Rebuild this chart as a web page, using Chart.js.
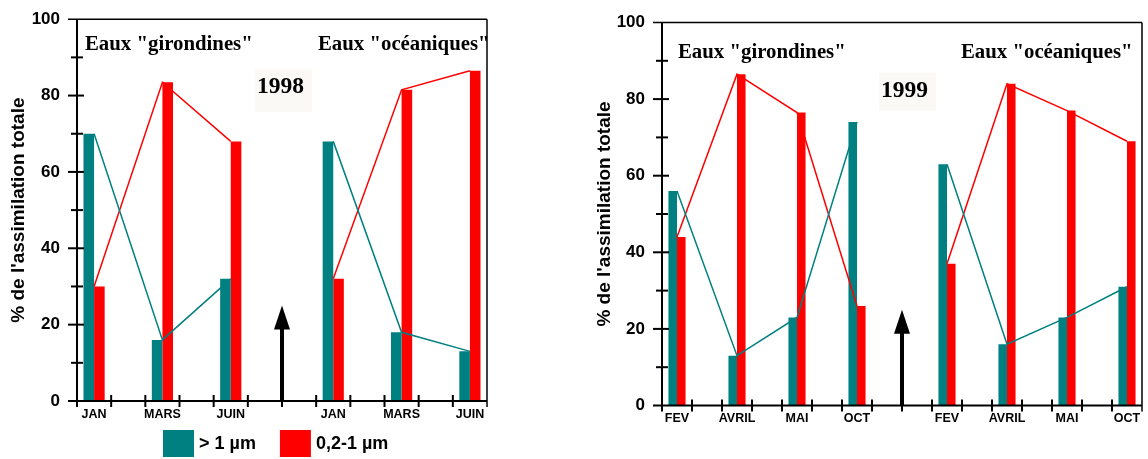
<!DOCTYPE html>
<html><head><meta charset="utf-8">
<script src="https://cdn.jsdelivr.net/npm/chart.js@4.4.0/dist/chart.umd.min.js"></script>
<style>
html,body{margin:0;padding:0;background:#fff;width:1148px;height:459px;overflow:hidden;}
.wrap{position:absolute;top:0;height:459px;}
#w1{left:0;width:590px;} #w2{left:590px;width:558px;}
canvas{display:block;}
</style></head><body>
<div class="wrap" id="w1"><canvas id="c1" width="590" height="459"></canvas></div>
<div class="wrap" id="w2"><canvas id="c2" width="558" height="459"></canvas></div>
<script>
// ---- data ----
const seriesLabels = ['> 1 µm', '0,2-1 µm'];
const groupTitles = ['Eaux "girondines"', 'Eaux "océaniques"'];

const months1998 = ['JAN', 'MARS', 'JUIN'];
const big1998Gironde = [70, 16, 32];
const small1998Gironde = [30, 83.5, 68];
const big1998Ocean = [68, 18, 13];
const small1998Ocean = [32, 81.5, 86.5];

const months1999 = ['FEV', 'AVRIL', 'MAI', 'OCT'];
const big1999Gironde = [56, 13, 23, 74];
const small1999Gironde = [44, 86.5, 76.5, 26];
const big1999Ocean = [63, 16, 23, 31];
const small1999Ocean = [37, 84, 77, 69];

const yMajorTicks = [0, 20, 40, 60, 80, 100];
const yMinorTicks = [10, 30, 50, 70, 90];
const arrowValues = [25, 19]; // tip, base of the arrowhead (axis units)

const TEAL = '#008080', RED = '#ff0000';
const SANS = '"Liberation Sans", Arial, sans-serif';
const SERIF = '"Liberation Serif", "Times New Roman", serif';

// place group values into slots: group 1 at 0,2,..; group 2 after a gap
function slotLabels(months) {
  const n = months.length, out = new Array(4 * n).fill('');
  months.forEach((m, i) => { out[2 * i] = m; out[2 * n + 1 + 2 * i] = m; });
  return out;
}
function slotData(n, g1, g2) {
  const out = new Array(4 * n).fill(null);
  if (g1) g1.forEach((v, i) => out[2 * i] = v);
  if (g2) g2.forEach((v, i) => out[2 * n + 1 + 2 * i] = v);
  return out;
}

const extras = {
  id: 'extras',
  beforeDatasetsDraw(chart, args, o) {
    const ctx = chart.ctx, a = chart.chartArea;
    ctx.save();
    ctx.fillStyle = '#fbf9f6';
    ctx.fillRect(a.left + o.yearBox[0], a.top + o.yearBox[1], o.yearBox[2], o.yearBox[3]);
    ctx.restore();
  },
  afterDraw(chart, args, o) {
    const ctx = chart.ctx, a = chart.chartArea;
    const xs = chart.scales.x, ys = chart.scales.y;
    const L = a.left, R = a.right, T = a.top, B = a.bottom;
    const n = o.n;
    const line = (x1, y1, x2, y2) => { ctx.beginPath(); ctx.moveTo(x1, y1); ctx.lineTo(x2, y2); ctx.stroke(); };
    ctx.save();
    ctx.strokeStyle = '#000';
    ctx.lineCap = 'butt';
    // frame
    ctx.lineWidth = 1.5;
    line(L - 9, T, R, T);
    line(R, T, R, B + 6);
    ctx.lineWidth = 2;
    line(L, T, L, B + 6);
    line(L - 9, B, R, B);
    // y ticks
    yMajorTicks.forEach(v => { if (v > 0 && v < 100) { const y = ys.getPixelForValue(v); line(L - 9, y, L + 7, y); } });
    yMinorTicks.forEach(v => { const y = ys.getPixelForValue(v); line(L - 6, y, L + 6, y); });
    // x ticks on slot boundaries
    const total = 4 * n;
    for (let k = 1; k < total; k++) {
      const x = (xs.getPixelForValue(k - 1) + xs.getPixelForValue(k)) / 2;
      line(x, B - 6, x, B + 6);
    }
    // arrow between the two groups
    const ax = (xs.getPixelForValue(2 * n - 1) + xs.getPixelForValue(2 * n)) / 2;
    const yTip = ys.getPixelForValue(arrowValues[0]), yBase = ys.getPixelForValue(arrowValues[1]);
    ctx.fillStyle = '#000';
    ctx.fillRect(ax - 2, yBase, 4, B - yBase);
    ctx.beginPath(); ctx.moveTo(ax - 8, yBase + 1); ctx.lineTo(ax + 8, yBase + 1); ctx.lineTo(ax, yTip); ctx.closePath(); ctx.fill();
    // group titles
    ctx.textBaseline = 'alphabetic';
    ctx.textAlign = 'left';
    ctx.font = 'bold 20.8px ' + SERIF;
    ctx.fillText(groupTitles[0], L + o.t1[0], T + o.t1[1]);
    ctx.fillText(groupTitles[1], L + o.t2[0], T + o.t2[1]);
    ctx.font = 'bold 23.5px ' + SERIF;
    ctx.fillText(o.year, L + o.yr[0], T + o.yr[1]);
    // legend
    if (o.legend) {
      ctx.font = 'bold 18px ' + SANS;
      ctx.textBaseline = 'middle';
      let x = (L + R) / 2 - 119;
      const colors = [TEAL, RED];
      seriesLabels.forEach((lab, i) => {
        ctx.fillStyle = colors[i];
        ctx.fillRect(x, 430, 31, 27);
        ctx.fillStyle = '#000';
        ctx.fillText(lab, x + 36, 444);
        x += 36 + ctx.measureText(lab).width + 24;
      });
    }
    ctx.restore();
  }
};

function makePanel(id, months, bigG, smallG, bigO, smallO, p) {
  const n = months.length;
  const lineDs = (data, color) => ({ type: 'line', data, borderColor: color, borderWidth: 1.5,
    pointRadius: 0, spanGaps: true, tension: 0, order: 0, fill: false });
  return new Chart(document.getElementById(id), {
    type: 'bar',
    data: {
      labels: slotLabels(months),
      datasets: [
        { label: seriesLabels[0], data: slotData(n, bigG, bigO), backgroundColor: TEAL, order: 1,
          categoryPercentage: p.catPct, barPercentage: 1, borderWidth: 0 },
        { label: seriesLabels[1], data: slotData(n, smallG, smallO), backgroundColor: RED, order: 1,
          categoryPercentage: p.catPct, barPercentage: 1, borderWidth: 0 },
        lineDs(slotData(n, bigG, null), TEAL),
        lineDs(slotData(n, null, bigO), TEAL),
        lineDs(slotData(n, smallG, null), RED),
        lineDs(slotData(n, null, smallO), RED)
      ]
    },
    options: {
      responsive: false, animation: false, devicePixelRatio: 1,
      layout: { padding: p.pad },
      plugins: { legend: { display: false }, tooltip: { enabled: false }, extras: p.extras },
      scales: {
        x: {
          type: 'category', offset: true,
          grid: { display: true, color: 'rgba(0,0,0,0)', drawTicks: false, offset: true },
          border: { display: false },
          ticks: { autoSkip: false, maxRotation: 0, padding: 6, color: '#000',
            font: { family: SANS, size: 12.5, weight: 'bold' } },
          afterFit: s => { s.height = 30; }
        },
        y: {
          min: 0, max: 100,
          grid: { display: true, color: 'rgba(0,0,0,0)', drawTicks: true, tickLength: 8, drawOnChartArea: false },
          border: { display: false },
          ticks: { stepSize: 20, padding: 9, color: '#000', font: { family: SANS, size: 17, weight: 'bold' } },
          title: { display: true, text: "% de l'assimilation totale", color: '#000',
            font: { family: SANS, size: 19, weight: 'bold' }, padding: { top: p.titlePad, bottom: 0 } },
          afterFit: s => { s.width = p.yWidth; }
        }
      }
    },
    plugins: [extras]
  });
}

makePanel('c1', months1998, big1998Gironde, small1998Gironde, big1998Ocean, small1998Ocean, {
  catPct: 0.62, yWidth: 77, titlePad: 7.6,
  pad: { top: 17, right: 103, bottom: 28, left: 0 },
  extras: { n: 3, year: '1998', legend: true, t1: [8, 31], t2: [241, 31], yr: [180, 74], yearBox: [178, 50, 57, 43] }
});
makePanel('c2', months1999, big1999Gironde, small1999Gironde, big1999Ocean, small1999Ocean, {
  catPct: 0.57, yWidth: 72, titlePad: 3.6,
  pad: { top: 22.5, right: 6, bottom: 23.5, left: 0 },
  extras: { n: 4, year: '1999', legend: false, t1: [16, 35], t2: [299, 35], yr: [219, 74], yearBox: [217, 50, 57, 38] }
});
</script>
</body></html>
